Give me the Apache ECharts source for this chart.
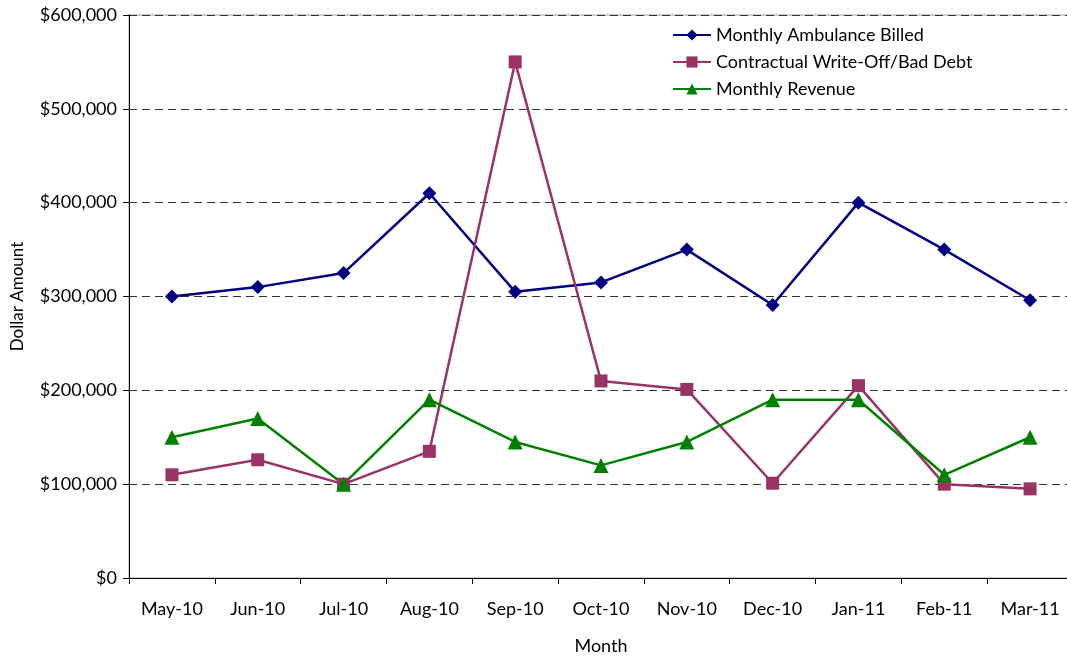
<!DOCTYPE html>
<html>
<head>
<meta charset="utf-8">
<script src="https://cdn.jsdelivr.net/npm/echarts@6/dist/echarts.min.js"></script>
<style>html,body{margin:0;padding:0;background:#fff;overflow:hidden}#c{width:1067px;height:656px}</style>
</head>
<body>
<div id="c"></div>
<script>
const categories = ['May-10','Jun-10','Jul-10','Aug-10','Sep-10','Oct-10','Nov-10','Dec-10','Jan-11','Feb-11','Mar-11'];
const ambulanceBilled = [300000,310000,325000,410000,305000,315000,350000,291000,400000,350000,296000];
const writeOff = [110000,126000,100000,135000,550000,210000,201000,101000,205000,100000,95000];
const revenue = [150000,170000,100000,190000,145000,120000,145000,190000,190000,110000,150000];

const font = 'Lato, "Open Sans", sans-serif';
const chart = echarts.init(document.getElementById('c'));
chart.setOption({
  animation: false,
  backgroundColor: '#fff',
  textStyle: { fontFamily: font },
  grid: { left: 129, right: -6, top: 15, bottom: 78, containLabel: false, outerBoundsMode: 'none',
    show: true, borderColor: '#a0a0a0', borderWidth: 1 },
  legend: {
    orient: 'vertical', left: 672, top: 26, padding: 0, itemWidth: 38, itemHeight: 14, itemGap: 9,
    textStyle: { fontFamily: font, fontSize: 18, color: '#000' },
    data: ['Monthly Ambulance Billed','Contractual Write-Off/Bad Debt','Monthly Revenue']
  },
  xAxis: {
    type: 'category', data: categories, boundaryGap: true,
    name: 'Month', nameLocation: 'middle', nameGap: 59,
    nameTextStyle: { fontFamily: font, fontSize: 18, color: '#000' },
    axisLine: { lineStyle: { color: '#000', width: 1 } },
    axisTick: { show: true, length: 6, lineStyle: { color: '#000' } },
    axisLabel: { fontFamily: font, fontSize: 18, color: '#000', margin: 22 }
  },
  yAxis: {
    type: 'value', min: 0, max: 600000, interval: 100000,
    name: 'Dollar Amount', nameLocation: 'middle', nameGap: 103,
    nameTextStyle: { fontFamily: font, fontSize: 17, color: '#000' },
    axisLine: { show: true, lineStyle: { color: '#000', width: 1 } },
    axisTick: { show: true, length: 6, lineStyle: { color: '#000' } },
    axisLabel: { fontFamily: font, fontSize: 18, color: '#000', margin: 12,
      formatter: v => '$' + v.toLocaleString('en-US') },
    splitLine: { show: true, lineStyle: { color: '#333', type: [8, 5], width: 1 } }
  },
  series: [
    { name: 'Monthly Ambulance Billed', type: 'line', data: ambulanceBilled,
      symbol: 'diamond', symbolSize: 14, color: '#000080',
      lineStyle: { width: 2.5, color: '#000080' }, itemStyle: { color: '#000080' } },
    { name: 'Contractual Write-Off/Bad Debt', type: 'line', data: writeOff,
      symbol: 'rect', symbolSize: 13, color: '#993366',
      lineStyle: { width: 2.5, color: '#993366' }, itemStyle: { color: '#993366' } },
    { name: 'Monthly Revenue', type: 'line', data: revenue,
      symbol: 'triangle', symbolSize: 15, color: '#008000',
      lineStyle: { width: 2.5, color: '#008000' }, itemStyle: { color: '#008000' } }
  ]
});
</script>
</body>
</html>
